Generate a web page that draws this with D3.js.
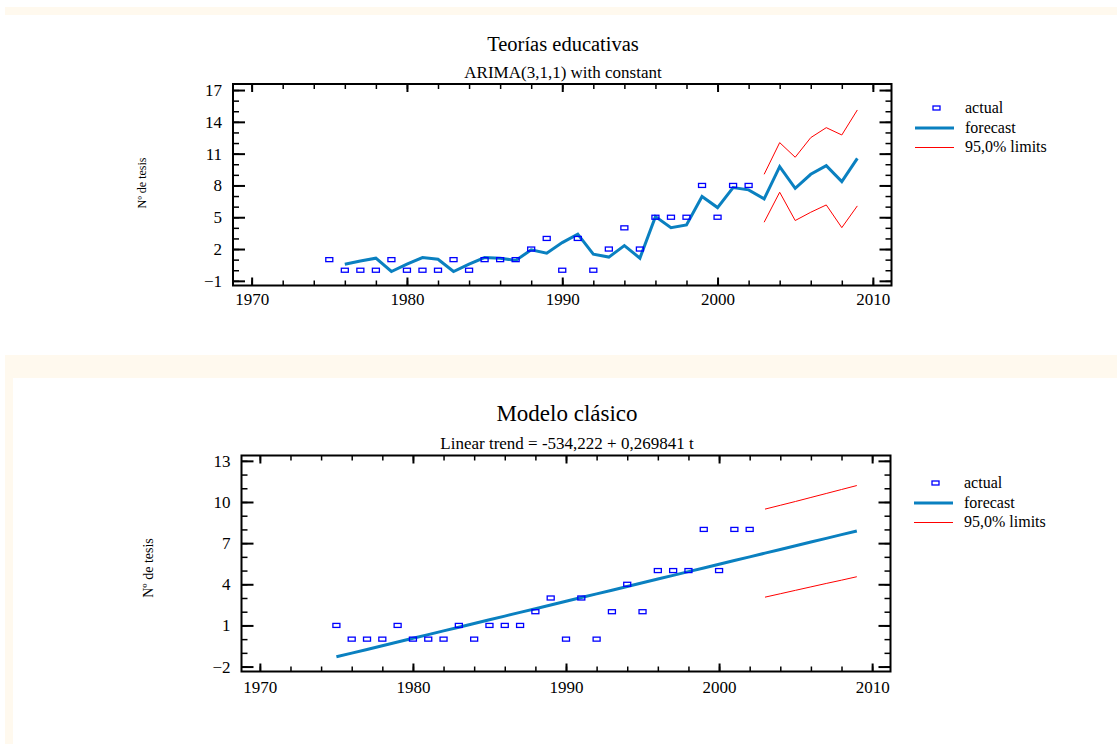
<!DOCTYPE html>
<html><head><meta charset="utf-8">
<script src="https://cdn.jsdelivr.net/npm/d3@7"></script>
<style>
body{margin:0;background:#fff;}
svg text{font-family:"Liberation Serif","Times New Roman",serif;fill:#000;}
</style></head>
<body><svg id="c" width="1117" height="744"></svg>
<script>
// ---- data ----
const years = [1975,1976,1977,1978,1979,1980,1981,1982,1983,1984,1985,1986,1987,1988,1989,1990,1991,1992,1993,1994,1995,1996,1997,1998,1999,2000,2001,2002];
const actual = [1,0,0,0,1,0,0,0,1,0,1,1,1,2,3,0,3,0,2,4,2,5,5,5,8,5,8,8];

const arimaYears = [1976,1977,1978,1979,1980,1981,1982,1983,1984,1985,1986,1987,1988,1989,1990,1991,1992,1993,1994,1995,1996,1997,1998,1999,2000,2001,2002,2003,2004,2005,2006,2007,2008,2009];
const arimaForecast = [0.57,0.88,1.14,-0.12,0.57,1.2,1.04,-0.12,0.57,1.2,1.14,0.92,1.92,1.61,2.61,3.4,1.52,1.24,2.33,1.14,5.06,4.02,4.28,6.95,5.91,7.8,7.58,6.73,9.78,7.73,9.05,9.87,8.36,10.56];
const limitYears = [2003,2004,2005,2006,2007,2008,2009];
const arimaUpper = [9.05,12.04,10.66,12.51,13.45,12.76,15.12];
const arimaLower = [4.53,7.36,4.69,5.47,6.16,4.02,6.07];

const trendYears = [1975,1976,1977,1978,1979,1980,1981,1982,1983,1984,1985,1986,1987,1988,1989,1990,1991,1992,1993,1994,1995,1996,1997,1998,1999,2000,2001,2002,2003,2004,2005,2006,2007,2008,2009];
const trendForecast = [-1.29,-1.02,-0.75,-0.48,-0.21,0.06,0.33,0.60,0.87,1.14,1.41,1.68,1.95,2.22,2.49,2.76,3.03,3.30,3.57,3.84,4.11,4.38,4.65,4.92,5.19,5.46,5.73,6.00,6.27,6.54,6.81,7.08,7.35,7.62,7.89];
const trendUpper = [9.48,9.76,10.04,10.33,10.62,10.91,11.20];
const trendLower = [3.06,3.31,3.56,3.81,4.06,4.30,4.55];

const xTicks = [1970,1980,1990,2000,2010];
const yTicksTop = [-1,2,5,8,11,14,17];
const yTicksBottom = [-2,1,4,7,10,13];
const legendLabels = ["actual","forecast","95,0% limits"];
const titles = ["Teorías educativas","Modelo clásico"];
const subtitles = ["ARIMA(3,1,1) with constant","Linear trend = -534,222 + 0,269841 t"];
const yLabel = "Nº de tesis";

// ---- drawing ----
const svg = d3.select("#c");
const cream = "#fff9ee";
svg.append("rect").attr("x",5).attr("y",7).attr("width",1112).attr("height",8).attr("fill",cream);
svg.append("rect").attr("x",5).attr("y",355).attr("width",1112).attr("height",23).attr("fill",cream);
svg.append("rect").attr("x",5).attr("y",378).attr("width",8).attr("height",366).attr("fill",cream);

const BLUE = "#0a80c0", RED = "#ff0000", MARK = "#0000ff";

function panel(o){
  const g = svg.append("g");
  const x = d3.scaleLinear().domain([1968.8,2011.2]).range([o.left,o.right]);
  const y = d3.scaleLinear().domain(o.ydom).range([o.bottom,o.top]);

  // titles
  g.append("text").attr("x",o.cx).attr("y",o.titleY).attr("text-anchor","middle")
    .style("font-size",o.titleSize+"px").text(o.title);
  g.append("text").attr("x",o.cx).attr("y",o.subY).attr("text-anchor","middle")
    .style("font-size",o.subSize+"px").text(o.sub);
  g.append("text").attr("transform",`translate(${o.ylx},${o.yly}) rotate(-90)`)
    .attr("text-anchor","middle").style("font-size",o.ylSize+"px").text(yLabel);

  // axes with inward ticks
  const minorX = d3.range(1970,2011,2);
  const minorY = d3.range(o.yMinorStart, o.ydom[1], 1);
  const bottomAx = d3.axisBottom(x).tickValues(minorX).tickSize(-5).tickFormat("");
  const topAx = d3.axisTop(x).tickValues(minorX).tickSize(-5).tickFormat("");
  const leftAx = d3.axisLeft(y).tickValues(minorY).tickSize(-6).tickFormat("");
  const rightAx = d3.axisRight(y).tickValues(minorY).tickSize(-6).tickFormat("");
  [[bottomAx,`translate(0,${o.bottom})`],[topAx,`translate(0,${o.top})`],
   [leftAx,`translate(${o.left},0)`],[rightAx,`translate(${o.right},0)`]].forEach(([ax,t])=>{
    const a = g.append("g").attr("transform",t).call(ax);
    a.select(".domain").remove();
    a.selectAll("line").attr("stroke","#000").attr("stroke-width",1.5);
  });
  // major ticks
  const bM = g.append("g").attr("transform",`translate(0,${o.bottom})`)
    .call(d3.axisBottom(x).tickValues(xTicks).tickSize(-8).tickPadding(o.xPad).tickFormat(d3.format("d")));
  const tM = g.append("g").attr("transform",`translate(0,${o.top})`)
    .call(d3.axisTop(x).tickValues(xTicks).tickSize(-8).tickFormat(""));
  const lM = g.append("g").attr("transform",`translate(${o.left},0)`)
    .call(d3.axisLeft(y).tickValues(o.yticks).tickSize(-12).tickPadding(11).tickFormat(d3.format("d")));
  const rM = g.append("g").attr("transform",`translate(${o.right},0)`)
    .call(d3.axisRight(y).tickValues(o.yticks).tickSize(-12).tickFormat(""));
  [bM,tM,lM,rM].forEach(a=>{
    a.select(".domain").remove();
    a.selectAll("line").attr("stroke","#000").attr("stroke-width",2);
    a.selectAll("text").style("font-size","17px").style("font-family","'Liberation Serif',serif").attr("fill","#000");
  });
  g.append("rect").attr("x",o.left).attr("y",o.top).attr("width",o.right-o.left).attr("height",o.bottom-o.top)
    .attr("fill","none").attr("stroke","#000").attr("stroke-width",2);

  const line = d3.line().x(d=>x(d[0])).y(d=>y(d[1]));
  // limits
  g.append("path").datum(limitYears.map((yr,i)=>[yr,o.upper[i]])).attr("d",line)
    .attr("fill","none").attr("stroke",RED).attr("stroke-width",1);
  g.append("path").datum(limitYears.map((yr,i)=>[yr,o.lower[i]])).attr("d",line)
    .attr("fill","none").attr("stroke",RED).attr("stroke-width",1);
  // forecast
  g.append("path").datum(o.fy.map((yr,i)=>[yr,o.fv[i]])).attr("d",line)
    .attr("fill","none").attr("stroke",BLUE).attr("stroke-width",3).attr("stroke-linejoin","miter");
  // actual
  g.append("g").selectAll("rect").data(years.map((yr,i)=>[yr,actual[i]])).join("rect")
    .attr("x",d=>x(d[0])-3.5).attr("y",d=>y(d[1])-2).attr("width",7).attr("height",4)
    .attr("fill","none").attr("stroke",MARK).attr("stroke-width",1.3);

  // legend
  const L = g.append("g");
  L.append("rect").attr("x",o.lgx+18).attr("y",o.lgy-2).attr("width",7).attr("height",4)
    .attr("fill","none").attr("stroke",MARK).attr("stroke-width",1.3);
  L.append("line").attr("x1",o.lgx).attr("x2",o.lgx+39).attr("y1",o.lgy+20).attr("y2",o.lgy+20)
    .attr("stroke",BLUE).attr("stroke-width",3);
  L.append("line").attr("x1",o.lgx).attr("x2",o.lgx+39).attr("y1",o.lgy+39.5).attr("y2",o.lgy+39.5)
    .attr("stroke",RED).attr("stroke-width",1);
  legendLabels.forEach((t,i)=>{
    L.append("text").attr("x",o.lgx+50).attr("y",o.lgy+5+i*19.5).style("font-size","16px").text(t);
  });
}

panel({left:233,right:891.5,top:84,bottom:285.5,ydom:[-1.44,17.57],yticks:yTicksTop,yMinorStart:-1,
  title:titles[0],titleSize:20.5,sub:subtitles[0],cx:563,titleY:51,subY:78,subSize:17,ylx:146,yly:183,ylSize:12,xPad:7,
  fy:arimaYears,fv:arimaForecast,upper:arimaUpper,lower:arimaLower,lgx:915,lgy:108});
panel({left:241.5,right:890.5,top:455.5,bottom:671.5,ydom:[-2.36,13.39],yticks:yTicksBottom,yMinorStart:-2,
  title:titles[1],titleSize:23,sub:subtitles[1],cx:567,titleY:421,subY:449,subSize:17,ylx:153,yly:568,ylSize:14,xPad:9,
  fy:trendYears,fv:trendForecast,upper:trendUpper,lower:trendLower,lgx:914,lgy:483});
</script></body></html>
